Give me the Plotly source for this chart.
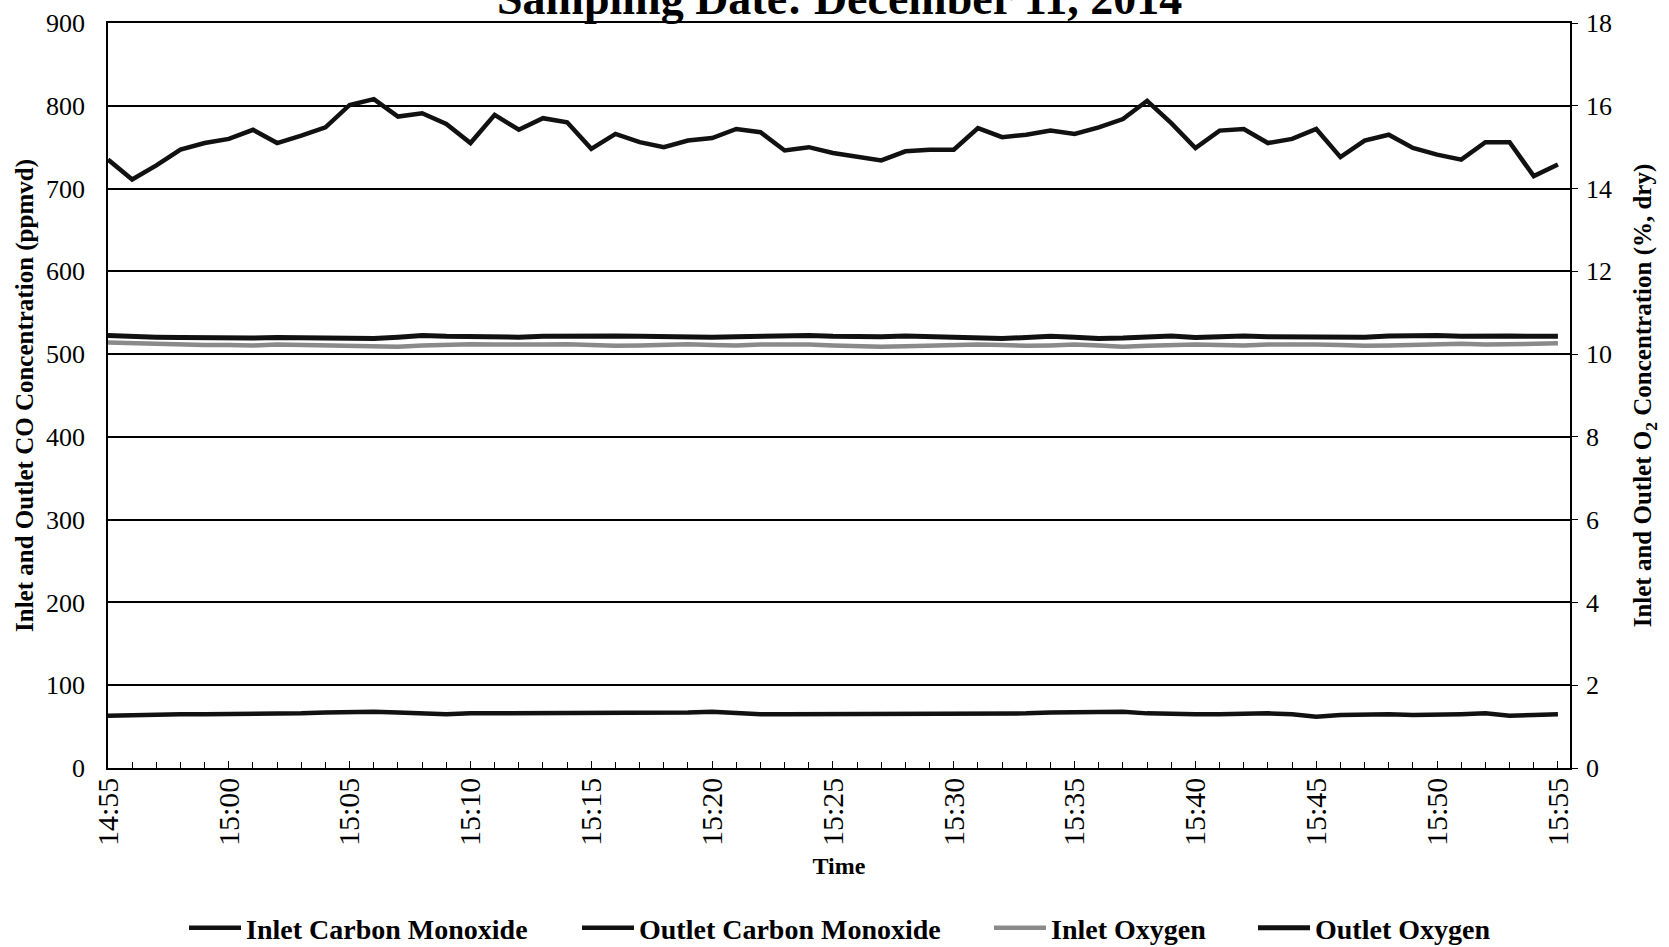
import pandas as pd
import plotly.graph_objects as go

# Sampling times, one reading per minute
times = pd.date_range("2014-12-11 14:55", "2014-12-11 15:55", freq="1min")

# CO concentrations (ppmvd)
inlet_co = [735, 711, 728, 747, 755, 760, 771, 755, 764, 774,
            801, 808, 787, 791, 778, 755, 789, 771, 785, 780,
            748, 766, 756, 750, 758, 761, 772, 768, 746, 750,
            743, 738, 734, 745, 747, 747, 773, 762, 765, 770,
            766, 774, 784, 806, 779, 749, 770, 772, 755, 760,
            772, 738, 758, 765, 749, 741, 735, 756, 756, 715, 729]

outlet_co = [63, 64, 65, 65, 65, 65, 65, 65, 66, 67,
             68, 68, 67, 66, 65, 66, 66, 67, 67, 66,
             66, 66, 66, 66, 67, 68, 66, 65, 65, 65,
             65, 65, 65, 65, 66, 66, 66, 66, 66, 67,
             67, 67, 68, 66, 65, 65, 65, 66, 66, 65,
             62, 64, 65, 65, 64, 64, 65, 66, 63, 64, 65]

# O2 concentrations (%, dry)
inlet_o2 = [10.28, 10.26, 10.24, 10.23, 10.22, 10.22, 10.21, 10.23, 10.22, 10.20,
            10.18, 10.17, 10.18, 10.21, 10.23, 10.24, 10.23, 10.22, 10.23, 10.24,
            10.22, 10.20, 10.21, 10.23, 10.24, 10.22, 10.21, 10.23, 10.24, 10.23,
            10.21, 10.19, 10.18, 10.19, 10.21, 10.22, 10.23, 10.22, 10.20, 10.21,
            10.23, 10.21, 10.18, 10.20, 10.22, 10.23, 10.22, 10.21, 10.23, 10.24,
            10.23, 10.22, 10.20, 10.21, 10.23, 10.24, 10.25, 10.23, 10.24, 10.25, 10.26]

outlet_o2 = [10.45, 10.42, 10.41, 10.40, 10.39, 10.38, 10.39, 10.40, 10.39, 10.37,
             10.37, 10.38, 10.41, 10.45, 10.43, 10.42, 10.42, 10.41, 10.43, 10.44,
             10.42, 10.44, 10.43, 10.42, 10.44, 10.41, 10.42, 10.43, 10.43, 10.45,
             10.43, 10.41, 10.42, 10.44, 10.42, 10.40, 10.39, 10.38, 10.40, 10.43,
             10.41, 10.38, 10.39, 10.42, 10.44, 10.40, 10.42, 10.44, 10.42, 10.41,
             10.43, 10.42, 10.41, 10.44, 10.46, 10.45, 10.43, 10.45, 10.44, 10.43, 10.43]

SERIF = "Liberation Serif, Times New Roman, serif"
W, H = 1669, 947
L, R, T, B = 108, 99, 23, 179
plot_h = H - T - B

fig = go.Figure()
fig.add_trace(go.Scatter(x=times, y=inlet_co, name="Inlet Carbon Monoxide", mode="lines",
                         line=dict(color="#111111", width=4.5), legend="legend"))
fig.add_trace(go.Scatter(x=times, y=outlet_co, name="Outlet Carbon Monoxide", mode="lines",
                         line=dict(color="#111111", width=4.5), legend="legend2"))
fig.add_trace(go.Scatter(x=times, y=inlet_o2, name="Inlet Oxygen", mode="lines", yaxis="y2",
                         line=dict(color="#8a8a8a", width=4.5), legend="legend3"))
fig.add_trace(go.Scatter(x=times, y=outlet_o2, name="Outlet Oxygen", mode="lines", yaxis="y2",
                         line=dict(color="#111111", width=5), legend="legend4"))

# Legend entries laid out in one row below the axis title
legend_font = dict(family=SERIF, size=28, color="black", weight="bold")
legend_common = dict(orientation="h", xref="container", yref="container",
                     yanchor="middle", y=1 - 928 / H, xanchor="left",
                     font=legend_font, bgcolor="rgba(0,0,0,0)", itemwidth=52,
                     borderwidth=0)

fig.update_layout(
    width=W, height=H,
    margin=dict(l=L, r=R, t=T, b=B, pad=0),
    paper_bgcolor="white", plot_bgcolor="white",
    font=dict(family=SERIF, color="black"),
    showlegend=True,
    legend=dict(x=184 / W, **legend_common),
    legend2=dict(x=577 / W, **legend_common),
    legend3=dict(x=989 / W, **legend_common),
    legend4=dict(x=1253 / W, **legend_common),
    xaxis=dict(
        type="date",
        range=["2014-12-11 14:55:00", "2014-12-11 15:55:30"],
        tick0="2014-12-11 14:55", dtick=300000, tickformat="%H:%M",
        tickangle=-90, tickfont=dict(family=SERIF, size=30, color="black"),
        ticks="inside", ticklen=7, tickwidth=1.2, tickcolor="black", ticklabelstandoff=-4,
        minor=dict(dtick=60000, ticks="inside", ticklen=6, tickwidth=1.2, tickcolor="black"),
        showgrid=False, showline=True, linecolor="black", linewidth=1.5, mirror=True,
        automargin=False,
        title=dict(text="<b>Time</b>", font=dict(family=SERIF, size=24, color="black"), standoff=12),
    ),
    yaxis=dict(
        range=[0, 900], dtick=100, tickfont=dict(family=SERIF, size=26, color="black"),
        showgrid=True, gridcolor="black", gridwidth=1.6,
        showline=True, linecolor="black", linewidth=1.5, ticks="", ticklabelstandoff=16,
        zeroline=False, automargin=False,
        title=dict(text="<b>Inlet and Outlet CO Concentration (ppmvd)</b>",
                   font=dict(family=SERIF, size=25, color="black"), standoff=5),
    ),
    yaxis2=dict(
        range=[0, 18], dtick=2, overlaying="y", side="right",
        tickfont=dict(family=SERIF, size=26, color="black"),
        showgrid=False, showline=True, linecolor="black", linewidth=1.5,
        ticks="outside", ticklen=6, tickcolor="black", tickwidth=1.2, ticklabelstandoff=3,
        zeroline=False, automargin=False,
        title=dict(text="<b>Inlet and Outlet O<sub>2</sub> Concentration (%, dry)</b>",
                   font=dict(family=SERIF, size=25, color="black"), standoff=23),
    ),
    annotations=[dict(
        text="<b>Sampling Date: December 11, 2014</b>",
        xref="paper", yref="paper", x=0.5, y=(H - B - 26) / plot_h, xanchor="center",
        yanchor="bottom", showarrow=False, font=dict(family=SERIF, size=46, color="black"),
    )],
)

fig.write_html("out.html")
